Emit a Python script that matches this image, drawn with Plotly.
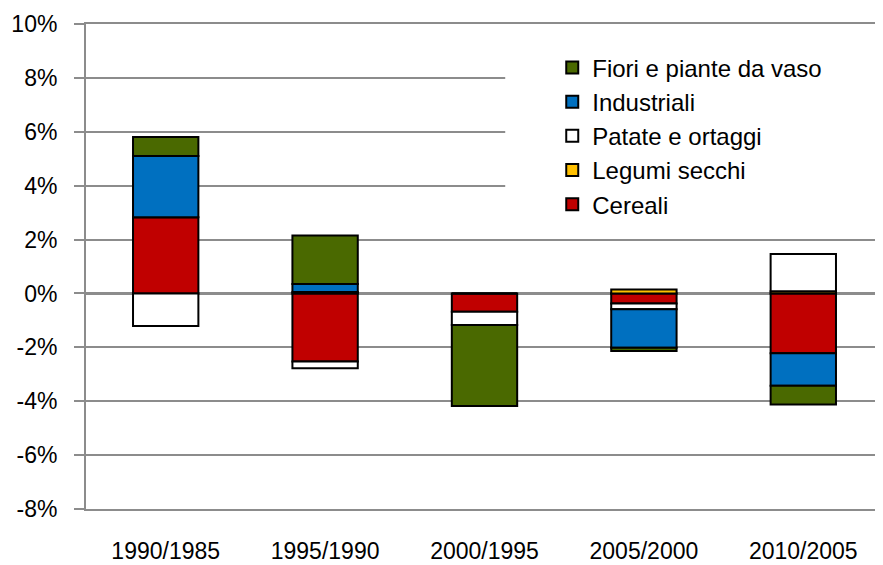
import plotly.graph_objects as go

categories = ["1990/1985", "1995/1990", "2000/1995", "2005/2000", "2010/2005"]

cereali = [2.83, -2.53, -0.68, -0.37, -2.22]
legumi = [0.00, 0.05, 0.00, 0.15, 0.08]
patate = [-1.21, -0.25, -0.49, -0.22, 1.38]
industriali = [2.27, 0.30, 0.00, -1.43, -1.21]
fiori = [0.71, 1.80, -3.01, -0.12, -0.69]

y_ticks = [-8, -6, -4, -2, 0, 2, 4, 6, 8, 10]
y_tick_labels = [f"{v}%" for v in y_ticks]

series = [
    ("Cereali", cereali, "#C00000"),
    ("Legumi secchi", legumi, "#FFC000"),
    ("Patate e ortaggi", patate, "#FFFFFF"),
    ("Industriali", industriali, "#0070C0"),
    ("Fiori e piante da vaso", fiori, "#4A6900"),
]

FONT = "Liberation Sans, Arial, sans-serif"

fig = go.Figure()
for name, vals, color in series:
    fig.add_trace(go.Bar(
        x=categories, y=vals, name=name, legendgroup=name,
        marker=dict(color=color, line=dict(color="#000000", width=2)),
    ))

# white legend backdrop hiding the gridlines behind it
fig.add_shape(type="rect", xref="paper", yref="paper",
              x0=0.526, x1=1.0, y0=0.586, y1=0.967,
              fillcolor="white", line=dict(width=0), layer="above")

fig.update_layout(
    width=875, height=557,
    barmode="relative",
    bargap=0.59,
    plot_bgcolor="white", paper_bgcolor="white",
    margin=dict(l=78, r=0, t=16, b=56),
    font=dict(family=FONT, size=23, color="#000000"),
    legend=dict(
        traceorder="reversed", tracegroupgap=3,
        x=0.585, y=0.956, xanchor="left", yanchor="top",
        bgcolor="rgba(0,0,0,0)", font=dict(family=FONT, size=24),
        itemwidth=30,
    ),
    xaxis=dict(
        showgrid=False, showline=True, mirror=True,
        linecolor="#8C8C8C", linewidth=1.5,
        ticks="", automargin=False,
        tickfont=dict(size=23), ticklabelstandoff=21,
    ),
    yaxis=dict(
        range=[-8, 10], tickvals=y_ticks, ticktext=y_tick_labels,
        automargin=False,
        showgrid=True, gridcolor="#8C8C8C", gridwidth=1.5,
        zeroline=True, zerolinecolor="#8C8C8C", zerolinewidth=2.5,
        showline=True, linecolor="#8C8C8C", linewidth=2,
        ticks="outside", ticklen=10, tickcolor="#8C8C8C", tickwidth=1.5,
        ticklabelstandoff=12,
        tickfont=dict(size=23),
    ),
)

fig.write_html("out.html")
